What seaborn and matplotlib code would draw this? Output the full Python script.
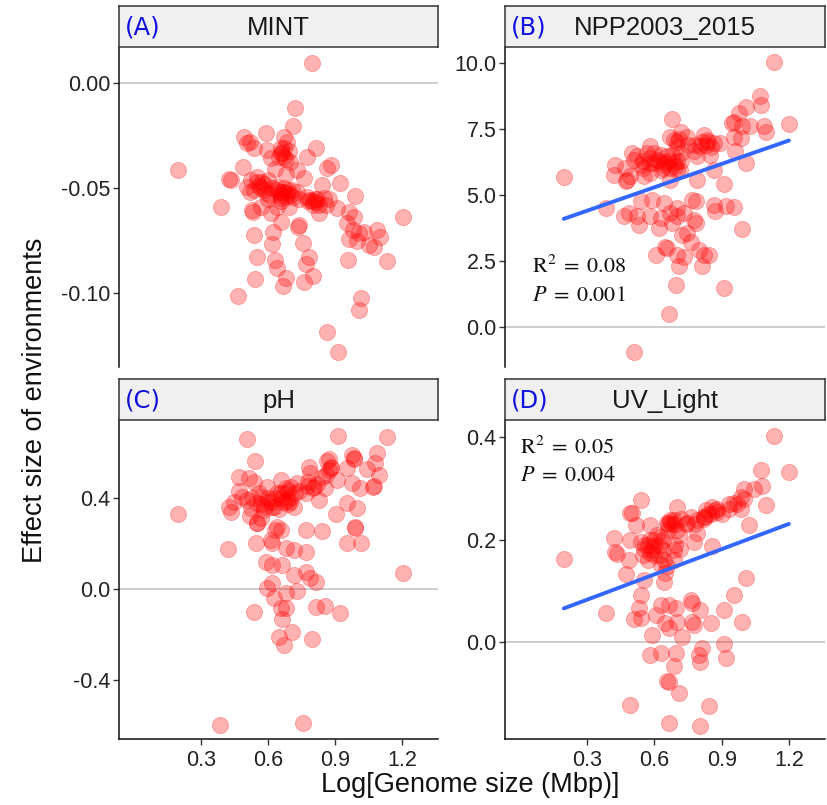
import numpy as np
import pandas as pd
import matplotlib
matplotlib.use("Agg")
import matplotlib.pyplot as plt
import seaborn as sns
from matplotlib.ticker import FormatStrFormatter

# ---------------- data ----------------
panel_names = ["MINT", "NPP2003_2015", "pH", "UV_Light"]
panel_tags = ["(A)", "(B)", "(C)", "(D)"]

mint_x = [0.798, 0.72, 0.713, 0.59, 0.493, 0.52, 0.508, 0.538, 0.671, 0.686, 0.671, 0.664,
          0.694, 0.65, 0.612, 0.597, 0.813, 0.776, 0.731, 0.70, 0.865, 0.88, 0.49, 0.196,
          0.426, 0.434, 0.523, 0.553, 0.575, 0.567, 0.538, 0.508, 0.597, 0.642, 0.664, 0.686,
          0.657, 0.709, 0.731, 0.776, 0.79, 0.813, 0.828, 0.85, 0.872, 0.842, 0.924, 0.909,
          0.991, 0.389, 0.53, 0.612, 0.657, 0.738, 0.828, 0.961, 0.984, 0.954, 0.694, 0.642,
          0.567, 0.58, 0.62, 0.65, 0.67, 0.68, 0.70, 0.66, 0.55, 0.60, 0.74, 0.80, 0.82,
          0.63, 0.68, 0.76, 0.60, 0.52, 0.86, 0.66, 0.68, 1.005, 0.96, 1.0, 1.088, 1.1,
          1.074, 1.204, 1.132, 0.538, 0.624, 0.62, 0.553, 0.633, 0.642, 0.758, 0.783, 0.77,
          0.541, 0.68, 0.665, 0.761, 0.8, 0.957, 0.468, 1.016, 1.005, 0.862, 0.912, 1.03,
          1.05, 0.98, 0.735, 0.533, 0.56, 0.58, 0.61, 0.64, 0.66, 0.67, 0.69, 0.71, 0.78,
          0.80, 0.81, 0.66, 0.67]
mint_y = [0.0098, -0.012, -0.0205, -0.0237, -0.0255, -0.0278, -0.0286, -0.031, -0.0254,
          -0.0278, -0.031, -0.0333, -0.0325, -0.0349, -0.0357, -0.0318, -0.031, -0.0349,
          -0.0413, -0.0373, -0.0405, -0.039, -0.0397, -0.0413, -0.0457, -0.046, -0.046,
          -0.0445, -0.0468, -0.05, -0.0508, -0.0492, -0.0524, -0.0492, -0.0516, -0.0524,
          -0.0548, -0.0508, -0.0516, -0.054, -0.0556, -0.0563, -0.0579, -0.0548, -0.0552,
          -0.0484, -0.0476, -0.0595, -0.0536, -0.0587, -0.0603, -0.0619, -0.0659, -0.0675,
          -0.0619, -0.0611, -0.0635, -0.0667, -0.0587, -0.0587, -0.0587, -0.048, -0.05,
          -0.052, -0.05, -0.054, -0.053, -0.056, -0.047, -0.046, -0.055, -0.058, -0.055,
          -0.041, -0.043, -0.045, -0.055, -0.052, -0.058, -0.031, -0.036, -0.0714, -0.074,
          -0.075, -0.0698, -0.073, -0.078, -0.0638, -0.0845, -0.0722, -0.071, -0.0767,
          -0.0829, -0.084, -0.088, -0.0759, -0.0829, -0.0862, -0.0933, -0.0929, -0.0965,
          -0.0948, -0.0916, -0.0841, -0.1013, -0.1024, -0.1078, -0.1183, -0.128, -0.071,
          -0.077, -0.070, -0.0684, -0.0611, -0.049, -0.051, -0.053, -0.051, -0.053, -0.052,
          -0.051, -0.054, -0.056, -0.056, -0.055, -0.033, -0.035]

npp_x = [1.132, 1.07, 1.076, 1.01, 0.976, 1.199, 0.946, 0.99, 1.028, 1.088, 1.095, 0.984,
         0.954, 0.961, 1.006, 0.679, 0.671, 0.686, 0.746, 0.82, 0.835, 0.865, 0.894, 0.805,
         0.775, 0.79, 0.846, 0.865, 0.582, 0.567, 0.523, 0.508, 0.538, 0.582, 0.612, 0.642,
         0.657, 0.686, 0.701, 0.627, 0.582, 0.671, 0.426, 0.419, 0.471, 0.493, 0.79, 0.909,
         0.382, 0.538, 0.59, 0.642, 0.701, 0.768, 0.783, 0.865, 0.917, 0.954, 0.872, 0.463,
         0.486, 0.523, 0.53, 0.582, 0.619, 0.627, 0.671, 0.701, 0.731, 0.679, 0.775, 0.783,
         0.991, 0.724, 0.746, 0.761, 0.649, 0.657, 0.605, 0.701, 0.731, 0.709, 0.798, 0.82,
         0.842, 0.813, 0.694, 0.909, 0.664, 0.508, 0.196, 0.60, 0.63, 0.66, 0.68, 0.70,
         0.72, 0.64, 0.69, 0.75, 0.78, 0.81, 0.85, 0.58, 0.55, 0.47, 0.50, 0.72, 0.70,
         0.478, 0.552, 0.716, 0.954, 0.60, 0.62, 0.65, 0.67, 0.70, 0.72, 0.71, 0.83, 0.84,
         0.55]
npp_y = [10.03, 8.76, 8.42, 8.35, 8.1, 7.7, 7.72, 7.6, 7.62, 7.6, 7.37, 7.15, 7.2, 6.65,
         6.2, 7.87, 7.2, 7.09, 7.2, 7.28, 7.09, 6.96, 6.96, 6.84, 6.65, 6.46, 6.52, 5.95,
         6.84, 6.58, 6.46, 6.33, 6.14, 6.2, 6.33, 6.14, 6.46, 6.2, 5.95, 5.95, 5.82, 5.57,
         6.14, 5.76, 5.51, 5.7, 5.57, 5.42, 4.49, 4.75, 4.81, 4.68, 4.49, 4.81, 4.75, 4.62,
         4.56, 4.53, 4.37, 4.18, 4.3, 4.18, 3.86, 4.18, 3.73, 4.11, 4.3, 4.18, 4.3, 3.92,
         4.05, 3.95, 3.7, 3.48, 3.54, 3.23, 3.04, 2.97, 2.72, 2.72, 2.66, 2.3, 2.91, 2.72,
         2.72, 2.3, 1.58, 1.46, 0.48, -0.97, 5.67, 6.6, 6.5, 6.3, 6.5, 6.8, 6.3, 6.0, 6.1,
         6.9, 6.9, 7.0, 6.8, 6.4, 6.3, 6.0, 6.6, 7.4, 7.0, 5.57, 5.7, 5.95, 7.78, 6.2, 6.3,
         6.2, 6.0, 6.3, 6.6, 7.1, 6.9, 7.0, 6.0]

ph_x = [0.508, 0.912, 1.132, 0.541, 1.088, 0.872, 0.976, 0.984, 0.954, 1.043, 1.08, 1.095,
        0.976, 1.013, 1.073, 0.954, 1.0, 0.906, 0.99, 0.954, 1.016, 1.202, 0.196, 0.426,
        0.434, 0.471, 0.515, 0.538, 0.486, 0.508, 0.523, 0.553, 0.582, 0.627, 0.567, 0.597,
        0.657, 0.672, 0.701, 0.686, 0.716, 0.731, 0.768, 0.79, 0.805, 0.828, 0.842, 0.872,
        0.909, 0.857, 0.553, 0.642, 0.657, 0.768, 0.842, 0.423, 0.545, 0.612, 0.62, 0.679,
        0.716, 0.768, 0.59, 0.62, 0.664, 0.716, 0.768, 0.79, 0.813, 0.597, 0.62, 0.679,
        0.728, 0.627, 0.538, 0.657, 0.679, 0.664, 0.813, 0.857, 0.924, 0.709, 0.649, 0.672,
        0.798, 0.386, 0.756, 0.60, 0.62, 0.64, 0.66, 0.68, 0.70, 0.72, 0.58, 0.65, 0.69,
        0.74, 0.78, 0.82, 0.56, 0.53, 0.47, 0.45, 0.86, 0.88, 0.783, 0.865, 0.88, 0.983,
        1.07, 0.99, 0.63, 0.52, 0.55, 0.57, 0.60, 0.62, 0.66, 0.67, 0.69, 0.70, 0.63,
        0.78, 0.80, 0.57]
ph_y = [0.655, 0.67, 0.667, 0.558, 0.597, 0.568, 0.587, 0.568, 0.528, 0.524, 0.55, 0.5,
        0.463, 0.441, 0.451, 0.378, 0.353, 0.328, 0.266, 0.2, 0.2, 0.072, 0.327, 0.361,
        0.339, 0.492, 0.485, 0.47, 0.404, 0.39, 0.353, 0.375, 0.346, 0.361, 0.404, 0.448,
        0.477, 0.419, 0.448, 0.39, 0.361, 0.463, 0.419, 0.507, 0.448, 0.39, 0.492, 0.521,
        0.477, 0.441, 0.288, 0.273, 0.258, 0.258, 0.255, 0.175, 0.2, 0.215, 0.203, 0.178,
        0.171, 0.163, 0.12, 0.105, 0.105, 0.061, 0.076, 0.047, 0.032, 0.003, 0.025, -0.019,
        -0.009, -0.041, -0.099, -0.085, -0.085, -0.133, -0.077, -0.074, -0.107, -0.187,
        -0.209, -0.245, -0.22, -0.596, -0.585, 0.40, 0.38, 0.42, 0.40, 0.44, 0.40, 0.42,
        0.36, 0.35, 0.37, 0.43, 0.47, 0.46, 0.42, 0.40, 0.43, 0.38, 0.50, 0.53, 0.535,
        0.56, 0.535, 0.572, 0.447, 0.272, 0.258, 0.32, 0.29, 0.31, 0.38, 0.36, 0.42, 0.38,
        0.43, 0.38, 0.40, 0.45, 0.44, 0.37]

uv_x = [1.132, 1.199, 1.073, 1.08, 0.998, 1.095, 1.02, 0.984, 0.954, 0.984, 0.857, 0.879,
        0.82, 0.79, 0.761, 0.746, 0.701, 0.686, 0.657, 0.582, 0.538, 0.493, 0.516, 0.493,
        0.419, 0.426, 0.434, 0.538, 0.553, 0.582, 0.627, 0.597, 0.686, 0.716, 0.79, 0.775,
        0.686, 0.642, 0.857, 0.486, 0.471, 0.657, 0.649, 0.553, 0.642, 0.196, 1.006, 0.954,
        0.909, 0.991, 0.382, 0.538, 0.53, 0.508, 0.538, 0.605, 0.627, 0.664, 0.694, 0.649,
        0.664, 0.701, 0.724, 0.761, 0.768, 0.805, 0.768, 0.775, 0.85, 0.59, 0.582, 0.627,
        0.694, 0.686, 0.657, 0.664, 0.709, 0.798, 0.813, 0.805, 0.909, 0.92, 0.489, 0.843,
        0.664, 0.805, 0.56, 0.58, 0.60, 0.62, 0.64, 0.66, 0.68, 0.70, 0.72, 0.74, 0.78,
        0.82, 0.84, 0.88, 0.90, 0.93, 0.97, 1.0, 0.55, 0.57, 0.63, 0.61, 0.69, 0.71, 1.043,
        0.5, 0.671, 0.93, 0.87, 0.83, 0.57, 0.59, 0.60, 0.62, 0.66, 0.67, 0.69, 0.64,
        0.82, 0.85]
uv_y = [0.403, 0.333, 0.336, 0.305, 0.3, 0.267, 0.228, 0.284, 0.271, 0.261, 0.265, 0.255,
        0.245, 0.239, 0.245, 0.232, 0.265, 0.239, 0.232, 0.229, 0.278, 0.252, 0.229, 0.2,
        0.203, 0.177, 0.172, 0.196, 0.183, 0.174, 0.206, 0.187, 0.18, 0.183, 0.213, 0.196,
        0.161, 0.161, 0.187, 0.161, 0.133, 0.148, 0.135, 0.122, 0.118, 0.162, 0.125, 0.092,
        0.063, 0.04, 0.057, 0.092, 0.066, 0.045, 0.047, 0.053, 0.073, 0.073, 0.066, 0.037,
        0.027, 0.04, 0.011, 0.083, 0.076, 0.063, 0.04, 0.034, 0.037, 0.014, -0.025, -0.021,
        -0.021, -0.046, -0.075, -0.077, -0.1, -0.025, -0.012, -0.038, -0.003, -0.031,
        -0.122, -0.124, -0.157, -0.163, 0.19, 0.20, 0.17, 0.19, 0.18, 0.22, 0.23, 0.22,
        0.24, 0.23, 0.23, 0.24, 0.25, 0.26, 0.25, 0.26, 0.27, 0.28, 0.17, 0.16, 0.15,
        0.21, 0.19, 0.21, 0.30, 0.252, 0.239, 0.27, 0.258, 0.258, 0.19, 0.18, 0.20, 0.17,
        0.23, 0.235, 0.23, 0.20, 0.245, 0.25]

fit_x = [0.196, 1.199]
npp_fit_y = [4.09, 7.06]
uv_fit_y = [0.066, 0.231]

npp_stats = [r"$\mathrm{R}^{2}\;=\;0.08$", r"$P\;=\;0.001$"]
uv_stats = [r"$\mathrm{R}^{2}\;=\;0.05$", r"$P\;=\;0.004$"]

x_ticks = [0.3, 0.6, 0.9, 1.2]
y_ticks = [[0.00, -0.05, -0.10], [0.0, 2.5, 5.0, 7.5, 10.0], [-0.4, 0.0, 0.4], [0.0, 0.2, 0.4]]
y_fmt = ["%.2f", "%.1f", "%.1f", "%.1f"]
y_lims = [(-0.135, 0.0167), (-1.53, 10.57), (-0.656, 0.735), (-0.189, 0.432)]
x_lim = (-0.066, 1.36)

df = pd.concat([
    pd.DataFrame({"x": mint_x, "y": mint_y, "panel": "MINT"}),
    pd.DataFrame({"x": npp_x, "y": npp_y, "panel": "NPP2003_2015"}),
    pd.DataFrame({"x": ph_x, "y": ph_y, "panel": "pH"}),
    pd.DataFrame({"x": uv_x, "y": uv_y, "panel": "UV_Light"}),
], ignore_index=True)

# ---------------- style ----------------
sns.set_style("ticks")
plt.rcParams["font.family"] = ["Liberation Sans", "DejaVu Sans"]
plt.rcParams["mathtext.fontset"] = "stix"
plt.rcParams["axes.unicode_minus"] = False

W, H = 827, 805
fig = plt.figure(figsize=(W / 100, H / 100), dpi=100)


def rect(x0, y0, x1, y1):
    return [x0 / W, 1 - y1 / H, (x1 - x0) / W, (y1 - y0) / H]


panel_px = [(119, 48, 438, 367), (505, 48, 825, 367), (119, 421, 438, 739), (505, 421, 825, 739)]
strip_px = [(119, 6, 438, 47), (505, 6, 825, 47), (119, 379, 438, 420), (505, 379, 825, 420)]

for i, name in enumerate(panel_names):
    ax = fig.add_axes(rect(*panel_px[i]))
    sub = df[df["panel"] == name]
    ax.axhline(0, color="#BEBEBE", lw=1.1, zorder=0)
    sns.scatterplot(data=sub, x="x", y="y", ax=ax, color="#FF0000", alpha=0.3, s=135,
                    edgecolor="#FF0000", linewidth=0.6, legend=False, zorder=2)
    if name == "NPP2003_2015":
        sns.lineplot(x=fit_x, y=npp_fit_y, ax=ax, color="#3366FF", linewidth=2.8, zorder=3)
        ax.text(0.055, 2.28, npp_stats[0], fontsize=16, va="center", ha="left", color="#111111")
        ax.text(0.055, 1.20, npp_stats[1], fontsize=16, va="center", ha="left", color="#111111")
    if name == "UV_Light":
        sns.lineplot(x=fit_x, y=uv_fit_y, ax=ax, color="#3366FF", linewidth=2.8, zorder=3)
        ax.text(0.0, 0.380, uv_stats[0], fontsize=16, va="center", ha="left", color="#111111")
        ax.text(0.0, 0.326, uv_stats[1], fontsize=16, va="center", ha="left", color="#111111")

    ax.set_xlim(*x_lim)
    ax.set_ylim(*y_lims[i])
    ax.set_yticks(y_ticks[i])
    ax.yaxis.set_major_formatter(FormatStrFormatter(y_fmt[i]))
    ax.set_xticks(x_ticks)
    ax.xaxis.set_major_formatter(FormatStrFormatter("%.1f"))
    ax.set_xlabel("")
    ax.set_ylabel("")
    ax.set_facecolor("white")
    for s in ["top", "right"]:
        ax.spines[s].set_visible(False)
    ax.spines["left"].set_color("#111111")
    ax.spines["left"].set_linewidth(1.1)
    ax.tick_params(axis="y", length=4, width=1.0, color="#333333", pad=2,
                   labelsize=15.5, labelcolor="#222222")
    if i < 2:
        ax.spines["bottom"].set_visible(False)
        ax.tick_params(axis="x", bottom=False, labelbottom=False)
    else:
        ax.spines["bottom"].set_color("#111111")
        ax.spines["bottom"].set_linewidth(1.1)
        ax.tick_params(axis="x", length=4, width=1.0, color="#333333", pad=4,
                       labelsize=15.5, labelcolor="#222222")

    # strip
    sax = fig.add_axes(rect(*strip_px[i]))
    sax.set_facecolor("#F0F0F0")
    sax.set_xticks([])
    sax.set_yticks([])
    for s in sax.spines.values():
        s.set_visible(True)
        s.set_color("#333333")
        s.set_linewidth(1.1)
    sax.text(0.5, 0.47, name, transform=sax.transAxes, ha="center", va="center",
             fontsize=18.5, color="#1A1A1A")
    sax.text(0.018, 0.47, panel_tags[i], transform=sax.transAxes, ha="left", va="center",
             fontsize=17.5, color="#1010E0", family=["DejaVu Sans"])

fig.text(35 / W, 1 - 400 / H, "Effect size of environments", rotation=90,
         ha="center", va="center", fontsize=19.5, color="#111111")
fig.text(470 / W, 1 - 785 / H, "Log[Genome size (Mbp)]", ha="center", va="center",
         fontsize=19.5, color="#111111")

fig.savefig("out.png", dpi=100)
